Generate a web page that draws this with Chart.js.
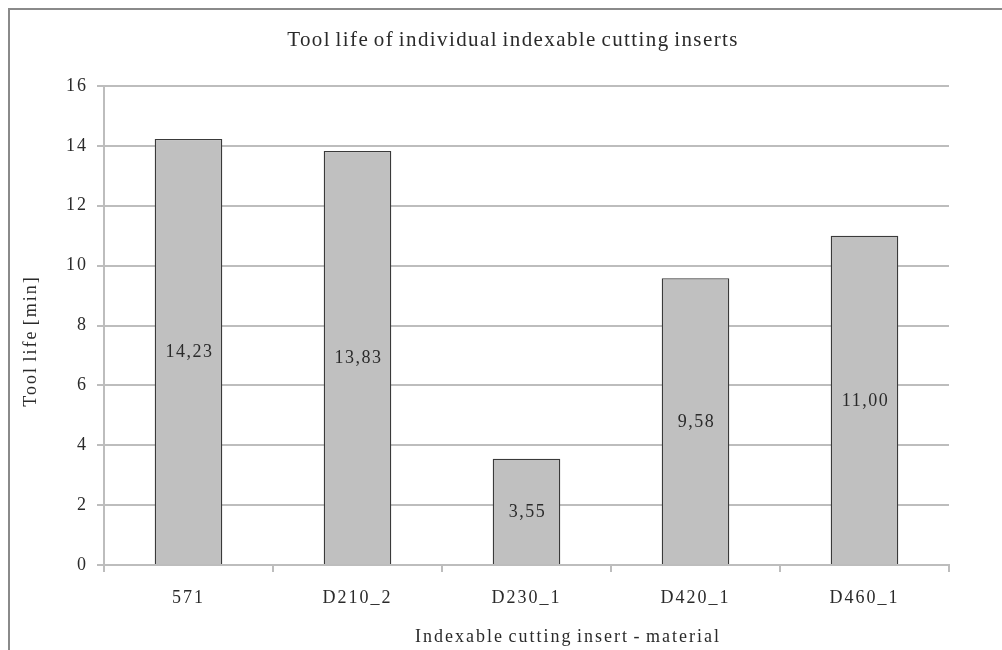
<!DOCTYPE html>
<html>
<head>
<meta charset="utf-8">
<script src="https://cdn.jsdelivr.net/npm/chart.js@4.4.1/dist/chart.umd.min.js"></script>
<style>
  html, body { margin: 0; padding: 0; background: #ffffff; overflow: hidden; }
  #wrap { position: relative; width: 1002px; height: 650px; }
</style>
</head>
<body>
<div id="wrap"><canvas id="c" width="1002" height="650"></canvas></div>
<script>
// Tool life per cutting insert material
const categories = ['571', 'D210_2', 'D230_1', 'D420_1', 'D460_1'];
const toolLife = [14.23, 13.83, 3.55, 9.58, 11.00];
const yTicks = [0, 2, 4, 6, 8, 10, 12, 14, 16];

const chartTitle = 'Tool life of individual indexable cutting inserts';
const xTitle = 'Indexable cutting insert - material';
const yTitle = 'Tool life [min]';

const SERIF = '"Liberation Serif", "Times New Roman", serif';
const GRID = '#bdbdbd';
const TEXT = '#2a2a2a';
const SPACING = '2px';

// Wide letter spacing for all chart text; re-applied because resizing the
// canvas resets the context state.
function applySpacing(chart) {
  chart.ctx.letterSpacing = SPACING;
  chart.ctx.wordSpacing = '-1px';
}

// Outer frame around the whole chart
const framePlugin = {
  id: 'frame',
  beforeUpdate: applySpacing,
  beforeLayout: applySpacing,
  beforeDraw(chart) {
    applySpacing(chart);
    const ctx = chart.ctx;
    ctx.save();
    ctx.fillStyle = '#ffffff';
    ctx.fillRect(0, 0, chart.width, chart.height);
    ctx.strokeStyle = '#8a8a8a';
    ctx.lineWidth = 2;
    ctx.strokeRect(9, 9, chart.width + 20, chart.height + 20);
    ctx.restore();
  }
};

// Chart title and both axis titles
const titlesPlugin = {
  id: 'titles',
  afterDraw(chart) {
    const ctx = chart.ctx;
    ctx.save();
    ctx.fillStyle = TEXT;
    ctx.textAlign = 'center';
    ctx.textBaseline = 'alphabetic';

    ctx.font = '21px ' + SERIF;
    ctx.letterSpacing = '1.4px';
    ctx.wordSpacing = '-2px';
    ctx.fillText(chartTitle, 513, 46);

    ctx.font = '18px ' + SERIF;
    ctx.letterSpacing = SPACING;
    ctx.fillText(xTitle, 568, 642);

    ctx.translate(36, 341);
    ctx.rotate(-Math.PI / 2);
    ctx.fillText(yTitle, 0, 0);
    ctx.restore();
  }
};

// Value labels centred inside each bar, decimal comma
const valueLabels = {
  id: 'valueLabels',
  afterDatasetsDraw(chart) {
    const ctx = chart.ctx;
    const meta = chart.getDatasetMeta(0);
    ctx.save();
    ctx.font = '18px ' + SERIF;
    ctx.letterSpacing = '1.5px';
    ctx.fillStyle = TEXT;
    ctx.textAlign = 'center';
    ctx.textBaseline = 'middle';
    meta.data.forEach((bar, i) => {
      const v = chart.data.datasets[0].data[i];
      const p = bar.getProps(['x', 'y', 'base'], true);
      ctx.fillText(v.toFixed(2).replace('.', ','), p.x + 1, (p.y + p.base) / 2 + 1);
    });
    ctx.restore();
  }
};

new Chart(document.getElementById('c'), {
  type: 'bar',
  data: {
    labels: categories,
    datasets: [{
      data: toolLife,
      backgroundColor: '#c0c0c0',
      borderColor: '#3a3a3a',
      borderWidth: 1.3,
      barPercentage: 0.8,
      categoryPercentage: 0.5
    }]
  },
  options: {
    responsive: false,
    animation: false,
    layout: { padding: { left: 0, right: 53, top: 86, bottom: 0 } },
    plugins: {
      legend: { display: false },
      tooltip: { enabled: false },
      title: { display: false }
    },
    scales: {
      x: {
        afterFit(scale) { scale.height = 85; },
        grid: { display: true, drawOnChartArea: false, color: GRID, lineWidth: 2, tickLength: 7, offset: true },
        border: { color: GRID, width: 2 },
        ticks: { color: TEXT, font: { family: SERIF, size: 18 }, padding: 15 }
      },
      y: {
        min: 0,
        max: 16,
        afterBuildTicks(scale) { scale.ticks = yTicks.map(v => ({ value: v })); },
        afterFit(scale) { scale.width = 104; },
        grid: { color: GRID, lineWidth: 2, tickLength: 7 },
        border: { color: GRID, width: 2 },
        ticks: { color: TEXT, font: { family: SERIF, size: 18 }, padding: 9 }
      }
    }
  },
  plugins: [framePlugin, titlesPlugin, valueLabels]
});
</script>
</body>
</html>
